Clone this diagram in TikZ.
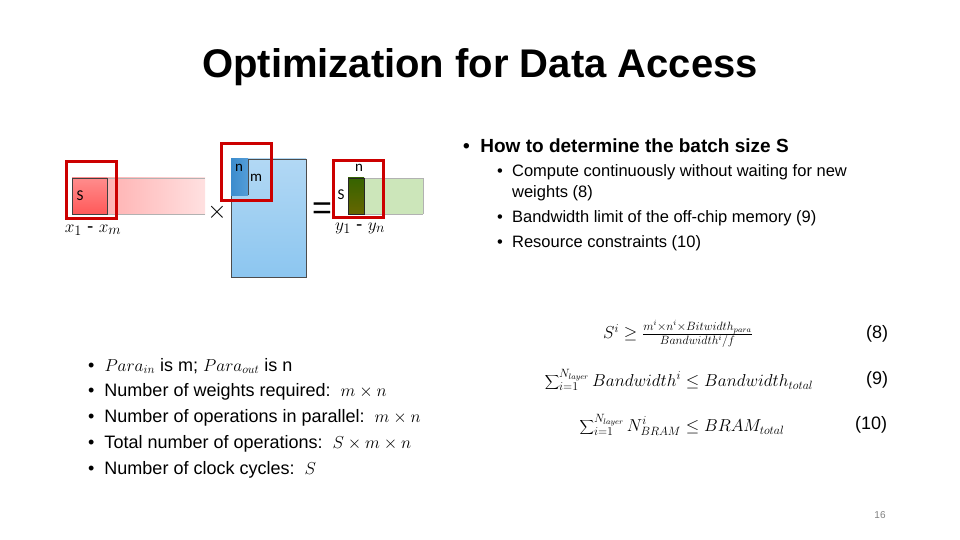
\documentclass[tikz,border=0pt]{standalone}
\usepackage{fontspec}
\setmainfont{Liberation Sans}
\newfontfamily\carlitofont{Carlito}
\definecolor{skyA}{RGB}{178,216,244}
\definecolor{skyB}{RGB}{140,198,240}
\definecolor{skyD}{RGB}{60,140,205}
\begin{document}
\begin{tikzpicture}[x=1pt,y=-1pt,
  txt/.style={anchor=west,inner sep=0pt,font=\fontsize{18}{21}\selectfont},
  frame/.style={draw=red!80!black,line width=3pt},
  lbl/.style={inner sep=0pt,font=\carlitofont\fontsize{15}{16}\selectfont}]
\useasboundingbox (0,0) rectangle (960,540);
\node[inner sep=0pt,font=\bfseries\fontsize{40}{44}\selectfont] (title) at (480,67) {Optimization for Data Access};
% X matrix
\shade[left color=red!30,right color=red!12] (107,178) rectangle (205,214);
\draw[gray!60] (107,178) -- (205,178) (107,214) -- (205,214);
\shade[top color=red!45,bottom color=red!65] (72,178) rectangle (107,214);
\draw[gray!50!black] (72,178) rectangle (107,214);
\node[lbl] (s1) at (80,196) {S};
\draw[frame] (66,162) rectangle (116,218);
\node[inner sep=0pt,font=\fontsize{19}{20}\selectfont] (xl) at (93,230) {$x_1$ - $x_m$};
\node[inner sep=0pt,font=\fontsize{24}{24}\selectfont] (times) at (217,212) {$\times$};
% W matrix
\shade[top color=skyA,bottom color=skyB] (231,159) rectangle (306,277);
\draw[gray!60!black] (231,159) rectangle (306,277);
\shade[left color=skyD,right color=skyD!70!skyB] (231,159) rectangle (248,195);
\draw[gray!60!black] (248,159) -- (248,195);
\node[lbl] (n1) at (239,168) {n};
\node[lbl] (m1) at (256,178) {m};
\draw[frame] (221,144) rectangle (271,200);
\node[inner sep=0pt,font=\fontsize{34}{34}\selectfont] (eq) at (322,211) {=};
% Y matrix
\fill[olive!30!green!25!white] (364,178) rectangle (423,214);
\draw[gray!60] (364,178) -- (423,178) (364,214) -- (423,214) (423,178)--(423,214);
\shade[top color=olive!70!green!60!black,bottom color=olive!80!black] (348,178) rectangle (364,214);
\draw[gray!30!black] (348,178) rectangle (364,214);
\node[lbl] (n2) at (359,168) {n};
\node[lbl] (s2) at (341,195) {S};
\draw[frame] (333,161) rectangle (383,217);
\node[inner sep=0pt,font=\fontsize{19}{20}\selectfont] (yl) at (360,228) {$y_1$ - $y_n$};
% right bullets
\node[txt,font=\bfseries\fontsize{19}{22}\selectfont] (h) at (463,146) {\textbullet\ \ How to determine the batch size S};
\node[txt,anchor=north west,font=\fontsize{16.5}{21}\selectfont,align=left] (b1) at (497,164) {\textbullet\ \ Compute continuously without waiting for new\\\hphantom{\textbullet\ \ }weights (8)\\[4pt]\textbullet\ \ Bandwidth limit of the off-chip memory (9)\\[4pt]\textbullet\ \ Resource constraints (10)};
% equations
\node[inner sep=0pt,font=\fontsize{17}{19}\selectfont] (e8) at (678,334) {$S^i \geq \frac{m^i\times n^i\times Bitwidth_{para}}{Bandwidth^i/f}$};
\node[txt] (n8) at (866,334) {(8)};
\node[inner sep=0pt,font=\fontsize{17}{19}\selectfont] (e9) at (679,380) {$\displaystyle\sum\nolimits_{i=1}^{N_{layer}} Bandwidth^i \leq Bandwidth_{total}$};
\node[txt] (n9) at (866,380) {(9)};
\node[inner sep=0pt,font=\fontsize{17}{19}\selectfont] (e10) at (682,425) {$\displaystyle\sum\nolimits_{i=1}^{N_{layer}} N^i_{BRAM} \leq BRAM_{total}$};
\node[txt] (n10) at (855,425) {(10)};
% left bullets
\node[txt] (l1) at (88,366) {\textbullet\ \ $Para_{in}$ is m; $Para_{out}$ is n};
\node[txt] (l2) at (88,392) {\textbullet\ \ Number of weights required:\ \ $m\times n$};
\node[txt] (l3) at (88,418) {\textbullet\ \ Number of operations in parallel:\ \ $m\times n$};
\node[txt] (l4) at (88,444) {\textbullet\ \ Total number of operations:\ \ $S\times m\times n$};
\node[txt] (l5) at (88,470) {\textbullet\ \ Number of clock cycles:\ \ $S$};
\node[inner sep=0pt,font=\fontsize{10}{12}\selectfont,text=gray] (pg) at (880,515) {16};
\end{tikzpicture}
\end{document}
